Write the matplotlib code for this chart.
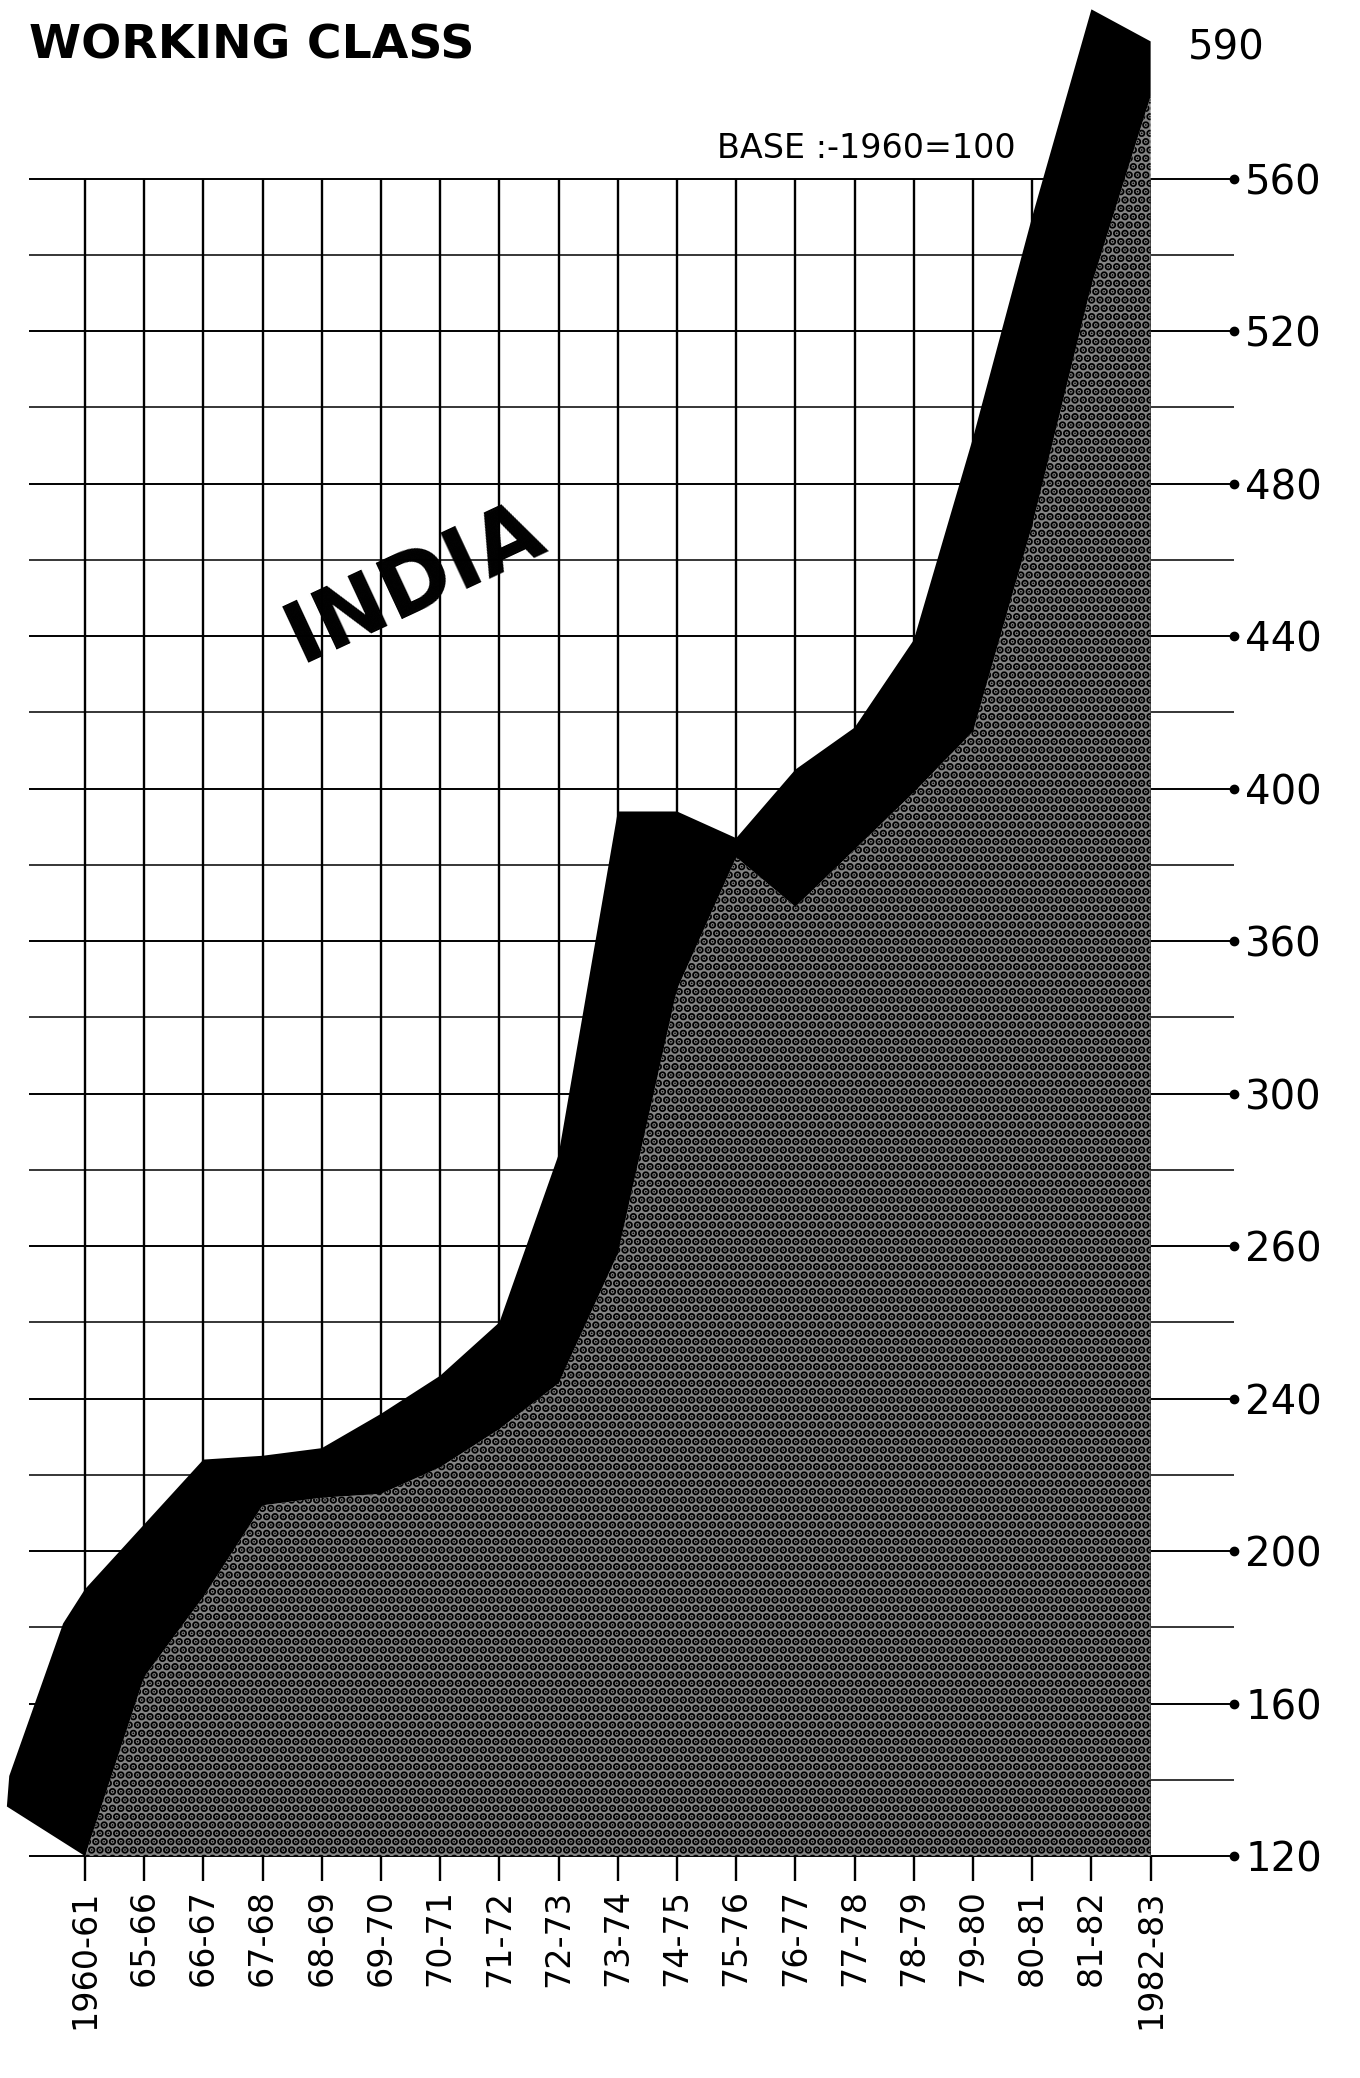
import numpy as np
import matplotlib
matplotlib.use("Agg")
import matplotlib.pyplot as plt

# year labels along the bottom
years = ["1960-61", "65-66", "66-67", "67-68", "68-69", "69-70", "70-71",
         "71-72", "72-73", "73-74", "74-75", "75-76", "76-77", "77-78",
         "78-79", "79-80", "80-81", "81-82", "1982-83"]

# top edge of the black band and top edge of the dotted area (1960 = 100)
upper = [190, 207, 224, 225, 227, 236, 243, 250, 284, 394,
         394, 387, 405, 416, 439, 492, 550, 597, 590]
lower = [120, 167, 188, 212, 214, 215, 222, 232, 242, 259,
         341, 382, 369, 384, 399, 415, 469, 532, 578]

# the band is drawn starting a bit left of the first year
tail_x = [-1.32, -1.28, -0.37]
tail_upper = [133, 141, 181]

# right-hand scale as printed (labels are evenly spaced, values are not)
ytick_vals = [120, 160, 200, 240, 260, 300, 360, 400, 440, 480, 520, 560]

scale_vals = [80] + ytick_vals + [600]
scale_pos = [-1] + list(range(len(ytick_vals))) + [12.2]


def forward(v):
    return np.interp(v, scale_vals, scale_pos)


def inverse(p):
    return np.interp(p, scale_pos, scale_vals)


plt.rcParams["font.family"] = "DejaVu Sans"
plt.rcParams["hatch.linewidth"] = 4.0
plt.rcParams["hatch.color"] = "black"

fig = plt.figure(figsize=(13.6, 20.78), dpi=100)
ax = fig.add_axes([0.00375, 0.1068, 0.8423, 0.8953])
ax.set_yscale("function", functions=(forward, inverse))

x = np.arange(len(years))
ax.set_xlim(-1.35, len(years) - 1)
ax.set_ylim(120, 600)

# grid: full lines on the labelled values, thinner ones half way between
minor_vals = inverse(np.arange(len(ytick_vals) - 1) + 0.5)
x0, x1 = -0.95, 19.4
ax.hlines(ytick_vals, x0, x1, color="black", lw=1.4, zorder=1, clip_on=False)
ax.hlines(minor_vals, x0, x1, color="black", lw=1.1, zorder=1, clip_on=False)
ax.plot([x1] * len(ytick_vals), ytick_vals, "o", color="black", ms=6,
        zorder=1, clip_on=False)
ax.vlines(x, ytick_vals[0], ytick_vals[-1], color="black", lw=1.7, zorder=1)

# dotted (halftone) area under the lower edge
ax.fill_between(x, lower, ytick_vals[0], facecolor="#848484",
                edgecolor="black", hatch="..", linewidth=0, zorder=2)

# black band between the two edges
band_x = np.r_[tail_x, x, x[::-1]]
band_y = np.r_[tail_upper, upper, lower[::-1]]
ax.fill(band_x, band_y, color="black", lw=0, zorder=3)

# axes
ax.set_xticks(x, years, rotation=90, fontsize=24)
ax.tick_params(axis="x", length=18, width=1.7, pad=6, direction="out")
ax.yaxis.tick_right()
ax.set_yticks(ytick_vals, [str(v) for v in ytick_vals], fontsize=29)
ax.set_yticks([], minor=True)
ax.tick_params(axis="y", length=0, pad=68)
for s in ax.spines.values():
    s.set_visible(False)

ax.annotate(str(upper[-1]), xy=(x[-1], upper[-1]), xytext=(27, -5),
            textcoords="offset points", fontsize=29, ha="left", va="center",
            annotation_clip=False)

ax.text(0.6215, 0.918, "BASE :-1960=100", transform=ax.transAxes,
        fontsize=24, ha="left", va="center", zorder=1.5)
ax.text(0.357, 0.684, "INDIA", transform=ax.transAxes, fontsize=62,
        fontweight="bold", rotation=25, ha="center", va="center", zorder=4)

fig.text(0.0213, 0.9779, "WORKING CLASS", fontsize=34, fontweight="bold",
         ha="left", va="center")

fig.savefig("out.png", dpi=100)
